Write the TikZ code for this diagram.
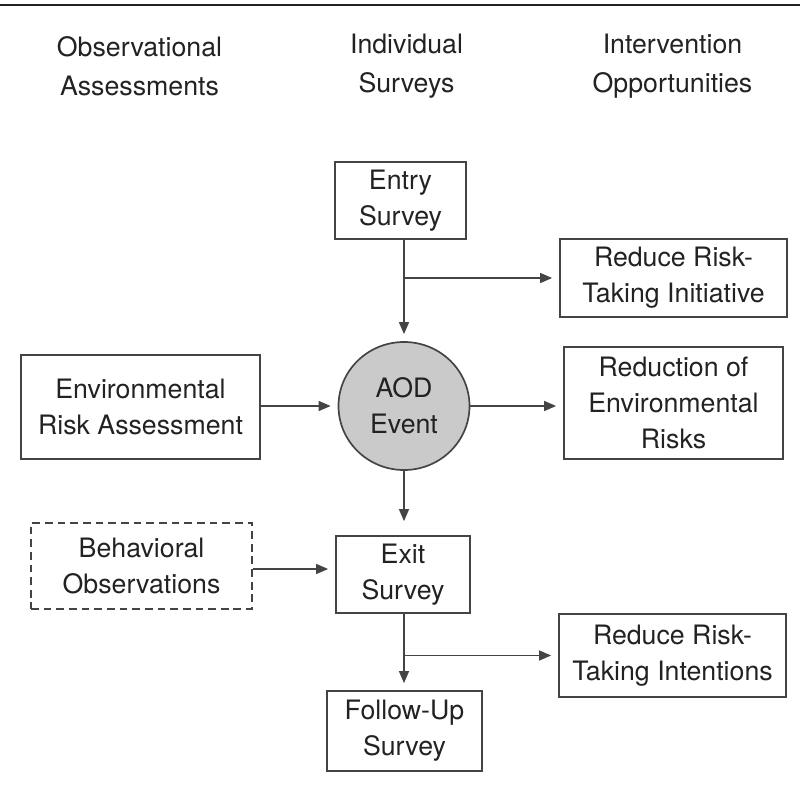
\documentclass[tikz,border=0pt]{standalone}
\usepackage{fontspec}
\setmainfont{TeX Gyre Heros}
\usetikzlibrary{arrows.meta,shapes.geometric}

\definecolor{linegray}{HTML}{444444}
\definecolor{textgray}{HTML}{222222}
\definecolor{eventgray}{HTML}{CACACA}

\def\px{.025cm}

\tikzset{
	box/.style={draw=linegray, line width=1.2pt, align=center, inner sep=0pt,
		text=textgray, font=\fontsize{19}{25.5}\selectfont},
	dashbox/.style={box, dash pattern=on 5.5pt off 3.5pt},
	event/.style={box, ellipse, fill=eventgray},
	heading/.style={align=center, text=textgray, font=\fontsize{19}{27.5}\selectfont},
	arr/.style={draw=linegray, line width=1.2pt, -{Triangle[length=8.5pt,width=7pt]},
		shorten >=7*\px},
}

\begin{document}
\begin{tikzpicture}[x=\px, y=-\px]
				\useasboundingbox (0,0) rectangle (800,793);
				\draw[line width=1.9pt, textgray] (0,5) -- (800,5);
				
				% column headings
				\node[heading] (hobs) at (139.5,66) {Observational\\Assessments};
				\node[heading] (hind) at (406.5,66) {Individual\\Surveys};
				\node[heading] (hint) at (672.5,66) {Intervention\\Opportunities};
				
				\node[box, minimum width=131*\px, minimum height=77*\px] (entry) at (400.5,200.5) {Entry\\Survey};
				\node[box, minimum width=227*\px, minimum height=78*\px] (initiative) at (673.5,278) {Reduce Risk-\\Taking Initiative};
				\node[event, minimum width=131*\px, minimum height=128*\px] (aod) at (404,406) {AOD\\Event};
				\node[box, minimum width=239*\px, minimum height=104*\px] (envrisk) at (140.5,407) {Environmental\\Risk Assessment};
				\node[box, minimum width=219*\px, minimum height=112*\px] (reduction) at (673.5,403) {Reduction of\\Environmental\\Risks};
				\node[dashbox, minimum width=221*\px, minimum height=86*\px] (behav) at (141.5,566) {Behavioral\\Observations};
				\node[box, minimum width=134*\px, minimum height=77*\px] (exit) at (403,574.5) {Exit\\Survey};
				\node[box, minimum width=227*\px, minimum height=83*\px] (intentions) at (672.5,655.5) {Reduce Risk-\\Taking Intentions};
				\node[box, minimum width=155*\px, minimum height=80*\px] (followup) at (404.5,731) {Follow-Up\\Survey};
				
				\coordinate (forki) at (initiative.west -| aod);
				\coordinate (forkii) at (intentions.west -| aod);
				
				\draw[arr] (entry.south -| aod) -- (aod.north);
				\draw[arr] (forki) -- (initiative.west);
				\draw[arr] (envrisk.east |- aod) -- (aod.west);
				\draw[arr] (aod.east) -- (aod.east -| reduction.west);
				\draw[arr, shorten >=14*\px] (aod.south) -- (exit.north -| aod);
				\draw[arr] (behav.east |- 0,569) -- (exit.west |- 0,569);
				\draw[arr] (exit.south -| aod) -- (followup.north -| aod);
				\draw[arr] (forkii) -- (intentions.west);
			\end{tikzpicture}
\end{document}
